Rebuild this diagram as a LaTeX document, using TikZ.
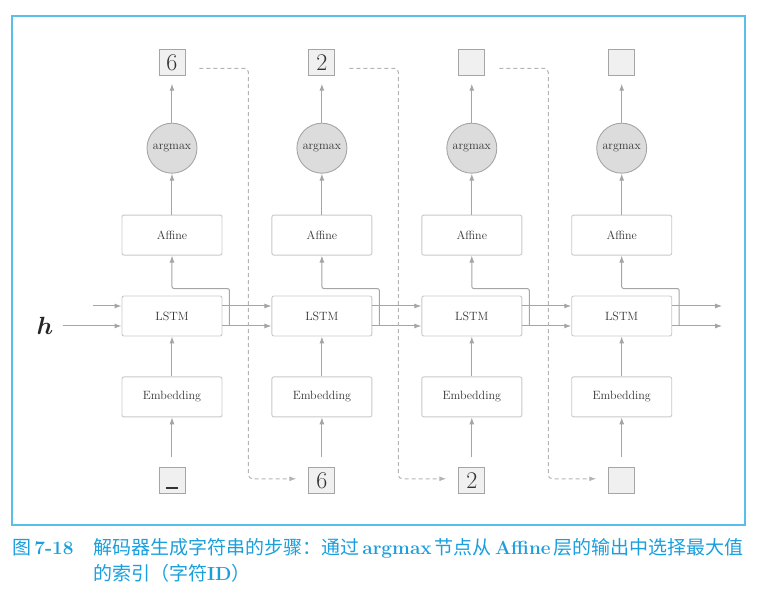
\documentclass[tikz,border=0pt]{standalone}
\usepackage{fontspec}
\usepackage{bm}
\usetikzlibrary{arrows.meta,positioning}
\newfontfamily\cjk{Noto Sans CJK SC}
\definecolor{boxgray}{RGB}{200,200,200}
\definecolor{linegray}{RGB}{165,165,165}
\definecolor{dashgray}{RGB}{180,180,180}
\definecolor{nodegray}{RGB}{220,220,220}
\definecolor{idgray}{RGB}{240,240,240}
\definecolor{capblue}{RGB}{26,159,221}
\definecolor{frameblue}{RGB}{90,190,235}
\tikzset{
	every node/.style={
		font=\fontsize{12}{14}\selectfont,
		text=black!80
	},
	layer/.style={
		shape=rectangle,
		minimum width=100pt,
		minimum height=40pt,
		rounded corners=2pt,
		draw=boxgray,
		line width=0.9pt
	},
	pick/.style={
		shape=circle,
		minimum size=50pt,
		inner sep=0pt,
		fill=nodegray,
		draw=linegray,
		line width=0.9pt
	},
	charid/.style={
		shape=rectangle,
		minimum size=26pt,
		inner sep=0pt,
		fill=idgray,
		draw=linegray,
		line width=0.9pt,
		font=\fontsize{24}{24}\selectfont
	},
	flow/.style={
		->,
		draw=linegray,
		line width=1pt
	},
	feed/.style={
		->,
		draw=dashgray,
		line width=1pt,
		dash pattern=on 4pt off 3pt,
		rounded corners=4pt
	},
	caption/.style={
		anchor=base west,
		inner sep=0pt,
		text=capblue,
		font=\fontsize{19}{19}\selectfont
	}
}

\begin{document}
\begin{tikzpicture}[>={Latex[length=7pt,width=5pt]},node distance=40pt]
	\useasboundingbox (-172pt,316pt) rectangle (586pt,-277pt);
	\draw[frameblue, line width=1.5pt] (-160pt,300pt) rectangle (573pt,-209pt);

	\node[layer] (lstm1)              {LSTM};
	\node[layer] (lstm2) [right=49pt of lstm1] {LSTM};
	\node[layer] (lstm3) [right=49pt of lstm2] {LSTM};
	\node[layer] (lstm4) [right=49pt of lstm3] {LSTM};

	\node[layer] (aff1) [above=of lstm1] {Affine};
	\node[layer] (aff2) [above=of lstm2] {Affine};
	\node[layer] (aff3) [above=of lstm3] {Affine};
	\node[layer] (aff4) [above=of lstm4] {Affine};

	\node[layer] (emb1) [below=of lstm1] {Embedding};
	\node[layer] (emb2) [below=of lstm2] {Embedding};
	\node[layer] (emb3) [below=of lstm3] {Embedding};
	\node[layer] (emb4) [below=of lstm4] {Embedding};

	\node[pick] (max1) [above=41pt of aff1] {argmax};
	\node[pick] (max2) [above=41pt of aff2] {argmax};
	\node[pick] (max3) [above=41pt of aff3] {argmax};
	\node[pick] (max4) [above=41pt of aff4] {argmax};

	\node[charid] (out1) [above=47pt of max1] {6};
	\node[charid] (out2) [above=47pt of max2] {2};
	\node[charid] (out3) [above=47pt of max3] {};
	\node[charid] (out4) [above=47pt of max4] {};

	\node[charid] (in1) [below=50pt of emb1] {\vphantom{6}\rule{12pt}{1.2pt}};
	\node[charid] (in2) [below=50pt of emb2] {6};
	\node[charid] (in3) [below=50pt of emb3] {2};
	\node[charid] (in4) [below=50pt of emb4] {};

	\node[inner sep=0pt, text=black!85, font=\fontsize{32}{32}\selectfont] (h) at (-127pt,-10pt) {$\bm{h}$};
	\coordinate (prev) at ([shift={(-29pt,10pt)}]lstm1.west);
	\coordinate (next1) at ([shift={(50pt,10pt)}]lstm4.east);
	\coordinate (next2) at ([shift={(50pt,-10pt)}]lstm4.east);

	\path (in1) edge[flow, shorten <=10pt] (emb1) (emb1) edge[flow] (lstm1) (aff1) edge[flow] (max1) (max1) edge[flow, shorten >=8pt] (out1);
	\path (in2) edge[flow, shorten <=10pt] (emb2) (emb2) edge[flow] (lstm2) (aff2) edge[flow] (max2) (max2) edge[flow, shorten >=8pt] (out2);
	\path (in3) edge[flow, shorten <=10pt] (emb3) (emb3) edge[flow] (lstm3) (aff3) edge[flow] (max3) (max3) edge[flow, shorten >=8pt] (out3);
	\path (in4) edge[flow, shorten <=10pt] (emb4) (emb4) edge[flow] (lstm4) (aff4) edge[flow] (max4) (max4) edge[flow, shorten >=8pt] (out4);

	% hidden state and cell between the steps
	\draw[flow] (prev) -- ([yshift=10pt]lstm1.west);
	\draw[flow, shorten <=9pt] (h) -- ([yshift=-10pt]lstm1.west);
	\draw[flow] ([yshift=10pt]lstm1.east) -- ([yshift=10pt]lstm2.west);
	\draw[flow] ([yshift=-10pt]lstm1.east) -- ([yshift=-10pt]lstm2.west);
	\draw[flow] ([yshift=10pt]lstm2.east) -- ([yshift=10pt]lstm3.west);
	\draw[flow] ([yshift=-10pt]lstm2.east) -- ([yshift=-10pt]lstm3.west);
	\draw[flow] ([yshift=10pt]lstm3.east) -- ([yshift=10pt]lstm4.west);
	\draw[flow] ([yshift=-10pt]lstm3.east) -- ([yshift=-10pt]lstm4.west);
	\draw[flow] ([yshift=10pt]lstm4.east) -- (next1);
	\draw[flow] ([yshift=-10pt]lstm4.east) -- (next2);

	\draw[flow, rounded corners=2pt] ([shift={(7pt,-10pt)}]lstm1.east) |- ([yshift=7pt]lstm1.north) -- (aff1);
	\draw[flow, rounded corners=2pt] ([shift={(7pt,-10pt)}]lstm2.east) |- ([yshift=7pt]lstm2.north) -- (aff2);
	\draw[flow, rounded corners=2pt] ([shift={(7pt,-10pt)}]lstm3.east) |- ([yshift=7pt]lstm3.north) -- (aff3);
	\draw[flow, rounded corners=2pt] ([shift={(7pt,-10pt)}]lstm4.east) |- ([yshift=7pt]lstm4.north) -- (aff4);

	% sampled id fed to the next step
	\draw[feed, shorten >=12pt] ([shift={(14pt,-6pt)}]out1.east) -| ([shift={(-60pt,2pt)}]in2.west) -- ([yshift=2pt]in2.west);
	\draw[feed, shorten >=12pt] ([shift={(14pt,-6pt)}]out2.east) -| ([shift={(-60pt,2pt)}]in3.west) -- ([yshift=2pt]in3.west);
	\draw[feed, shorten >=12pt] ([shift={(14pt,-6pt)}]out3.east) -| ([shift={(-60pt,2pt)}]in4.west) -- ([yshift=2pt]in4.west);

	\node[caption] (figno) at (-160pt,-239pt) {{\cjk 图}\,\textbf{7-18}};
	\node[caption] (cap1) at (-79pt,-239pt) {{\cjk 解码器生成字符串的步骤：通过}\,\textbf{argmax}\,{\cjk 节点从}\,\textbf{Affine}\,{\cjk 层的输出中选择最大值}};
	\node[caption] (cap2) at (-79pt,-265pt) {{\cjk 的索引（字符}\textbf{ID}{\cjk ）}};
\end{tikzpicture}
\end{document}
